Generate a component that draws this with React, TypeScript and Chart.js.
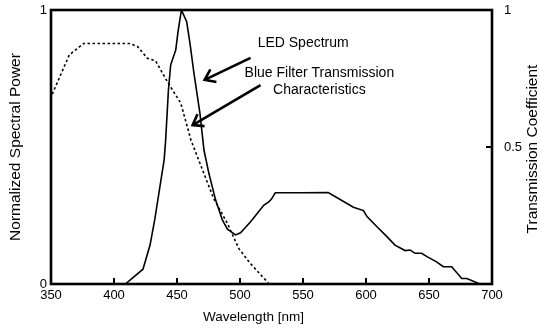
import React, { useEffect, useRef } from "react";
import { Chart, registerables } from "chart.js";

Chart.register(...registerables);

// LED spectrum (wavelength nm, normalized power)
const ledWavelength = [409, 423, 428.6, 432.3, 439.8, 441, 443.2, 445, 449, 450.8, 453.5, 457.7, 460.3, 463.5, 468.2, 471.4, 475.3, 480.6, 486, 490, 496.5, 500.4, 508.4, 519, 522.8, 525, 528, 548, 570, 590, 598, 600.8, 608.7, 616.6, 623, 631, 635, 639, 644, 649.5, 656, 661.4, 668, 676, 680, 690.5];
const ledPower = [0, 0.054, 0.142, 0.234, 0.453, 0.526, 0.708, 0.8, 0.854, 0.92, 1.0, 0.957, 0.878, 0.768, 0.623, 0.489, 0.404, 0.307, 0.234, 0.2, 0.179, 0.187, 0.227, 0.288, 0.3, 0.31, 0.333, 0.333, 0.334, 0.28, 0.268, 0.246, 0.209, 0.173, 0.142, 0.122, 0.124, 0.112, 0.112, 0.097, 0.081, 0.063, 0.063, 0.02, 0.02, 0];

// Blue filter transmission (wavelength nm, coefficient)
const filterWavelength = [351, 364.5, 376, 412, 418.6, 426.5, 433, 442.4, 453, 461, 479, 490, 499, 508, 521.6, 522.6];
const filterTransmission = [0.693, 0.836, 0.878, 0.878, 0.867, 0.824, 0.814, 0.738, 0.66, 0.526, 0.313, 0.221, 0.13, 0.076, 0.008, 0];

const xTicks = [350, 400, 450, 500, 550, 600, 650, 700];
const leftTicks = [0, 1];
const rightTicks = [0.5, 1];

const xTitle = "Wavelength [nm]";
const leftTitle = "Normalized Spectral Power";
const rightTitle = "Transmission Coefficient";

const FONT = "'Liberation Sans', Arial, sans-serif";

const overlayPlugin = {
  id: "overlay",
  afterDraw(chart: any) {
    const ctx = chart.ctx as CanvasRenderingContext2D;
    const a = chart.chartArea;
    const xs = chart.scales.x;
    const ys = chart.scales.y;
    ctx.save();
    ctx.strokeStyle = "#000";
    ctx.fillStyle = "#000";
    // frame
    ctx.lineWidth = 2.6;
    ctx.strokeRect(a.left, a.top, a.right - a.left, a.bottom - a.top);
    // inward x ticks
    ctx.lineWidth = 2;
    xTicks.slice(1, -1).forEach((v) => {
      const px = xs.getPixelForValue(v);
      ctx.beginPath();
      ctx.moveTo(px, a.bottom);
      ctx.lineTo(px, a.bottom - 6);
      ctx.stroke();
    });
    // right axis inner tick at 0.5
    const y2 = chart.scales.y2;
    const py = y2.getPixelForValue(0.5);
    ctx.beginPath();
    ctx.moveTo(a.right - 6, py);
    ctx.lineTo(a.right, py);
    ctx.stroke();

    // annotations
    const P = (nm: number, v: number) => [xs.getPixelForValue(nm), ys.getPixelForValue(v)];
    ctx.font = `14px ${FONT}`;
    ctx.textBaseline = "middle";
    ctx.textAlign = "left";
    let [tx, ty] = P(514, 0.88);
    ctx.fillText("LED Spectrum", tx, ty);
    ctx.textAlign = "center";
    [tx, ty] = P(563, 0.77);
    ctx.fillText("Blue Filter Transmission", tx, ty);
    [tx, ty] = P(563, 0.708);
    ctx.fillText("Characteristics", tx, ty);

    const arrow = (from: number[], to: number[]) => {
      ctx.lineWidth = 2.6;
      ctx.beginPath();
      ctx.moveTo(from[0], from[1]);
      ctx.lineTo(to[0], to[1]);
      ctx.stroke();
      const ang = Math.atan2(from[1] - to[1], from[0] - to[0]);
      const len = 12;
      const spread = 0.62;
      ctx.beginPath();
      ctx.moveTo(to[0] + len * Math.cos(ang - spread), to[1] + len * Math.sin(ang - spread));
      ctx.lineTo(to[0], to[1]);
      ctx.lineTo(to[0] + len * Math.cos(ang + spread), to[1] + len * Math.sin(ang + spread));
      ctx.stroke();
    };
    arrow(P(508.4, 0.825), P(471.9, 0.745));
    arrow(P(516.3, 0.726), P(462.4, 0.58));

    // titles
    ctx.font = `13.5px ${FONT}`;
    ctx.textAlign = "center";
    ctx.textBaseline = "middle";
    ctx.fillText(xTitle, 253.5, 317);
    ctx.font = `15.5px ${FONT}`;
    ctx.translate(533, (a.top + a.bottom) / 2 + 2);
    ctx.rotate(-Math.PI / 2);
    ctx.fillText(rightTitle, 0, 0);
    ctx.restore();
  },
};

const noPad = (s: any) => {
  s.paddingTop = 0;
  s.paddingBottom = 0;
  s.paddingLeft = 0;
  s.paddingRight = 0;
};

export default function App() {
  const ref = useRef<HTMLCanvasElement>(null);
  useEffect(() => {
    if (!ref.current) return;
    const chart = new Chart(ref.current, {
      type: "line",
      data: {
        datasets: [
          {
            label: "LED Spectrum",
            data: ledWavelength.map((x, i) => ({ x, y: ledPower[i] })),
            borderColor: "#000",
            borderWidth: 1.6,
            pointRadius: 0,
            tension: 0,
            yAxisID: "y",
          },
          {
            label: "Blue Filter Transmission Characteristics",
            data: filterWavelength.map((x, i) => ({ x, y: filterTransmission[i] })),
            borderColor: "#000",
            borderWidth: 1.6,
            borderDash: [2.5, 2.5],
            pointRadius: 0,
            tension: 0,
            yAxisID: "y2",
          },
        ],
      },
      options: {
        responsive: false,
        animation: false,
        layout: { padding: { top: 10, left: 0, right: 0, bottom: 0 } },
        plugins: { legend: { display: false }, tooltip: { enabled: false } },
        scales: {
          x: {
            type: "linear",
            min: 350,
            max: 700,
            afterBuildTicks: (s: any) => {
              s.ticks = xTicks.map((value) => ({ value }));
            },
            afterFit: (s: any) => {
              s.height = 47;
              noPad(s);
            },
            grid: { display: false, drawTicks: false },
            border: { display: false },
            ticks: { color: "#000", font: { size: 13, family: FONT }, padding: 4, maxRotation: 0, autoSkip: false, callback: (v: any) => String(v) },
          },
          y: {
            type: "linear",
            position: "left",
            min: 0,
            max: 1,
            afterBuildTicks: (s: any) => {
              s.ticks = leftTicks.map((value) => ({ value }));
            },
            afterFit: (s: any) => {
              s.width = 51;
              noPad(s);
            },
            grid: { display: false, drawTicks: false },
            border: { display: false },
            ticks: { color: "#000", font: { size: 13, family: FONT }, padding: 4, callback: (v: any) => String(v) },
            title: { display: true, text: leftTitle, color: "#000", font: { size: 15.5, family: FONT }, padding: { top: 6, bottom: 0 } },
          },
          y2: {
            type: "linear",
            position: "right",
            min: 0,
            max: 1,
            afterBuildTicks: (s: any) => {
              s.ticks = rightTicks.map((value) => ({ value }));
            },
            afterFit: (s: any) => {
              s.width = 48;
              noPad(s);
            },
            grid: { display: false, drawTicks: false },
            border: { display: false },
            ticks: { color: "#000", font: { size: 13, family: FONT }, padding: 12, callback: (v: any) => String(v) },
          },
        },
      },
      plugins: [overlayPlugin],
    } as any);
    return () => chart.destroy();
  }, []);
  return (
    <div style={{ position: "absolute", left: 0, top: 0, width: 540, height: 331, background: "#fff" }}>
      <canvas ref={ref} width={540} height={331} style={{ width: 540, height: 331 }} />
    </div>
  );
}
